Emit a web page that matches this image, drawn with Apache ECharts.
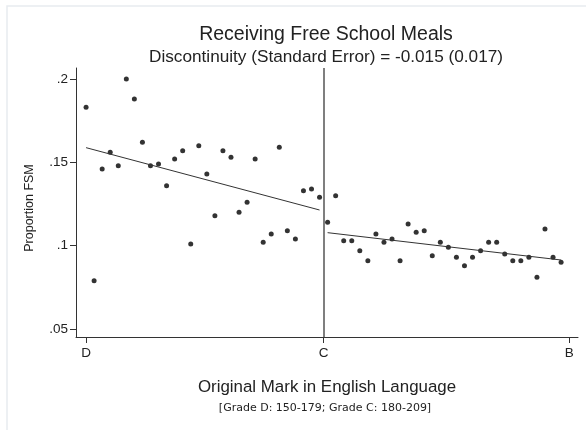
<!DOCTYPE html>
<html>
<head>
<meta charset="utf-8">
<script src="https://cdn.jsdelivr.net/npm/echarts@6/dist/echarts.min.js"></script>
<style>
html, body { margin: 0; padding: 0; background: #fff; }
#main { width: 586px; height: 430px; }
</style>
</head>
<body>
<div id="main"></div>
<script>
// original mark, grade D side and grade C side
var leftMarks = [150, 151, 152, 153, 154, 155, 156, 157, 158, 159, 160, 161, 162, 163, 164,
	165, 166, 167, 168, 169, 170, 171, 172, 173, 174, 175, 176, 177, 178, 179];
var leftShare = [0.183, 0.079, 0.146, 0.156, 0.148, 0.200, 0.188, 0.162, 0.148, 0.149, 0.136,
	0.152, 0.157, 0.101, 0.160, 0.143, 0.118, 0.157, 0.153, 0.120, 0.126, 0.152, 0.102, 0.107,
	0.159, 0.109, 0.104, 0.133, 0.134, 0.129];
var rightMarks = [180, 181, 182, 183, 184, 185, 186, 187, 188, 189, 190, 191, 192, 193, 194,
	195, 196, 197, 198, 199, 200, 201, 202, 203, 204, 205, 206, 207, 208, 209];
var rightShare = [0.114, 0.130, 0.103, 0.103, 0.097, 0.091, 0.107, 0.102, 0.104, 0.091, 0.113,
	0.108, 0.109, 0.094, 0.102, 0.099, 0.093, 0.088, 0.093, 0.097, 0.102, 0.102, 0.095, 0.091,
	0.091, 0.093, 0.081, 0.110, 0.093, 0.090];

// fitted lines (start / end)
var leftFitX = [150, 179];
var leftFitY = [0.1588, 0.1214];
var rightFitX = [180, 209];
var rightFitY = [0.1078, 0.0914];

var cutoff = 179.5;
var xTickValues = [150, 179.5, 210];
var xTickLabels = ['D', 'C', 'B'];
var yTickValues = [0.05, 0.1, 0.15, 0.2];
var yTickLabels = ['.05', '.1', '.15', '.2'];

function pairs(xs, ys) {
	var out = [];
	for (var i = 0; i < xs.length; i++) {
		out.push([xs[i], ys[i]]);
	}
	return out;
}

var font = 'Liberation Sans, Arial, sans-serif';
var dom = document.getElementById('main');
var myChart = echarts.init(dom, null, { renderer: 'canvas' });

var option = {
	animation : false,
	backgroundColor : '#ffffff',
	textStyle : { fontFamily : font },
	grid : { left : 76, right : 8, top : 68, bottom : 93 },
	graphic : [ {
		type : 'rect',
		shape : { x : 7, y : 6, width : 700, height : 600 },
		style : { fill : 'none', stroke : '#e8ebf0', lineWidth : 1.5 },
		silent : true
	}, {
		type : 'text',
		x : 326, y : 35,
		style : { text : 'Receiving Free School Meals', fontFamily : font, fontSize : 19.5,
			fill : '#222', align : 'center', verticalAlign : 'middle' }
	}, {
		type : 'text',
		x : 326, y : 57,
		style : { text : 'Discontinuity (Standard Error) = -0.015 (0.017)', fontFamily : font,
			fontSize : 17.2, fill : '#222', align : 'center', verticalAlign : 'middle' }
	}, {
		// y axis title
		type : 'text',
		x : 30, y : 208,
		rotation : Math.PI / 2,
		style : { text : 'Proportion FSM', fontFamily : font, fontSize : 12.5,
			fill : '#222', align : 'center', verticalAlign : 'middle' }
	}, {
		type : 'text',
		x : 325, y : 408,
		style : { text : '[Grade D: 150-179; Grade C: 180-209]', fontFamily : 'DejaVu Sans',
			fontSize : 11, fill : '#222', align : 'center', verticalAlign : 'middle' }
	} ],
	xAxis : {
		type : 'value',
		min : 148.75,
		max : 211.1,
		name : 'Original Mark in English Language',
		nameLocation : 'middle',
		nameGap : 42,
		nameTextStyle : { fontFamily : font, fontSize : 16.9, color : '#222' },
		axisLine : { lineStyle : { color : '#333', width : 1 } },
		axisTick : { show : true, length : 6, customValues : xTickValues,
			lineStyle : { color : '#333' } },
		axisLabel : {
			customValues : xTickValues,
			margin : 9,
			fontFamily : font,
			fontSize : 13.5,
			color : '#222',
			formatter : function(v) {
				var i = xTickValues.indexOf(v);
				return i >= 0 ? xTickLabels[i] : '';
			}
		},
		splitLine : { show : false }
	},
	yAxis : {
		type : 'value',
		min : 0.0452,
		max : 0.2066,
		axisLine : { show : true, lineStyle : { color : '#333', width : 1 } },
		axisTick : { show : true, length : 6, customValues : yTickValues,
			lineStyle : { color : '#333' } },
		axisLabel : {
			customValues : yTickValues,
			margin : 8,
			fontFamily : font,
			fontSize : 13.5,
			color : '#222',
			formatter : function(v) {
				for (var i = 0; i < yTickValues.length; i++) {
					if (Math.abs(yTickValues[i] - v) < 1e-9) return yTickLabels[i];
				}
				return '';
			}
		},
		splitLine : { show : false }
	},
	series : [ {
		name : 'D side',
		type : 'scatter',
		symbolSize : 5,
		itemStyle : { color : '#000' },
		data : pairs(leftMarks, leftShare),
		markLine : {
			silent : true,
			symbol : 'none',
			label : { show : false },
			lineStyle : { color : '#555', width : 1.5, type : 'solid' },
			data : [ { xAxis : cutoff } ]
		}
	}, {
		name : 'C side',
		type : 'scatter',
		symbolSize : 5,
		itemStyle : { color : '#000' },
		data : pairs(rightMarks, rightShare)
	}, {
		name : 'D fit',
		type : 'line',
		symbol : 'none',
		lineStyle : { color : '#333', width : 1 },
		data : pairs(leftFitX, leftFitY)
	}, {
		name : 'C fit',
		type : 'line',
		symbol : 'none',
		lineStyle : { color : '#333', width : 1 },
		data : pairs(rightFitX, rightFitY)
	} ]
};

if (option && typeof option === "object") {
	myChart.setOption(option, true);
}
</script>
</body>
</html>
